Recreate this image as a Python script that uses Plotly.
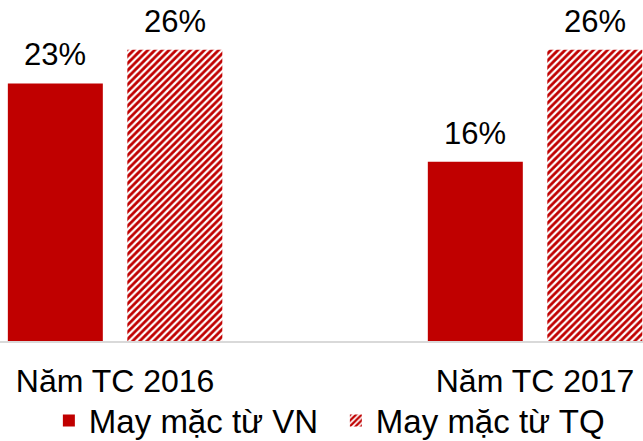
import plotly.graph_objects as go

categories = ["Năm TC 2016", "Năm TC 2017"]
series_names = ["May mặc từ VN", "May mặc từ TQ"]
vn_values = [23, 16]
tq_values = [26, 26]

RED = "#C00000"
FONT = "Liberation Sans, Arial, sans-serif"
FS = 31

fig = go.Figure()
fig.add_trace(go.Bar(
    x=categories, y=vn_values, name=series_names[0],
    marker=dict(color=RED, line=dict(width=0)),
))
fig.add_trace(go.Bar(
    x=categories, y=tq_values, name=series_names[1],
    marker=dict(color="white", line=dict(width=0),
                pattern=dict(shape="/", fgcolor=RED, bgcolor="white",
                             size=5, solidity=0.55, fgopacity=1,
                             fillmode="replace")),
))

# value labels above bars
for vals, shift in ((vn_values, -59.75), (tq_values, 59.75)):
    for c, v in zip(categories, vals):
        fig.add_annotation(x=c, y=v, text=f"{v}%", showarrow=False,
                           xshift=shift, yshift=9, yanchor="bottom",
                           font=dict(family=FONT, size=FS, color="black"))

fig.update_layout(
    width=643, height=441,
    margin=dict(l=0, r=0, t=0, b=100, autoexpand=False),
    paper_bgcolor="white", plot_bgcolor="white",
    barmode="group", bargap=0.431, bargroupgap=0.205,
    font=dict(family=FONT, size=FS, color="black"),
    showlegend=True,
    legend=dict(orientation="h", x=0.076, xanchor="left",
                yref="container", y=0.11, yanchor="top",
                font=dict(family=FONT, size=33), traceorder="normal",
                itemwidth=30, entrywidth=242, entrywidthmode="pixels"),
    xaxis=dict(range=[-0.274, 1.257], showgrid=False, zeroline=False,
               showline=True, linecolor="#d9d9d9", linewidth=2,
               ticks="", ticklabelstandoff=11, automargin=False,
               tickfont=dict(family=FONT, size=32, color="black")),
    yaxis=dict(range=[0, 30.45], visible=False),
)

fig.write_html("out.html", config={"displayModeBar": False},
               post_script="document.body.style.margin='0';document.body.style.overflow='hidden';")
